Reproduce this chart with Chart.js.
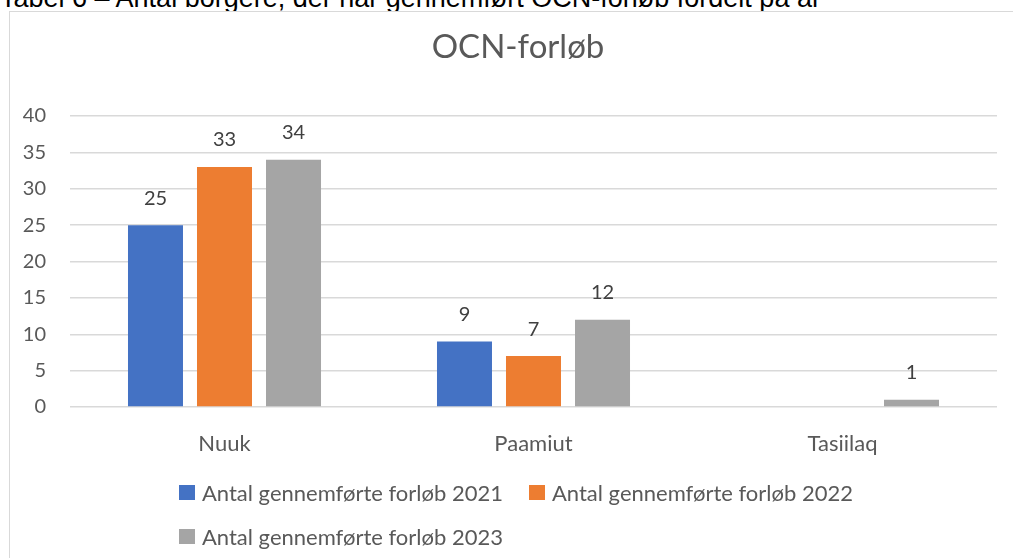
<!DOCTYPE html>
<html>
<head>
<meta charset="utf-8">
<script src="https://cdn.jsdelivr.net/npm/chart.js@4"></script>
<style>
  html, body { margin: 0; padding: 0; background: #fff; overflow: hidden; }
  body { width: 1013px; height: 558px; position: relative; }
  #caption { position: absolute; left: 0; top: -15px; font: 27px/1 "Liberation Sans", Arial, sans-serif; color: #000; white-space: nowrap; }
  #frame { position: absolute; left: 9px; top: 11px; width: 1030px; height: 600px; border: 1.5px solid #d9d9d9; box-sizing: border-box; background: #fff; }
  #myChart { position: absolute; left: 0; top: 0; }
  .lg { position: absolute; display: flex; align-items: center; font: 22px Lato, sans-serif; color: #595959; white-space: nowrap; }
  .lg span.box { display: inline-block; width: 16px; height: 15px; margin-right: 7px; }
</style>
</head>
<body>
<div id="caption">Tabel 6 – Antal borgere, der har gennemført OCN-forløb fordelt på år</div>
<div id="frame"></div>
<canvas id="myChart" width="1013" height="558"></canvas>
<div id="legend"></div>
<script>
var chartTitle = "OCN-forløb";
var categories = ["Nuuk", "Paamiut", "Tasiilaq"];
var seriesNames = [
    "Antal gennemførte forløb 2021",
    "Antal gennemførte forløb 2022",
    "Antal gennemførte forløb 2023",
];
var values2021 = [25, 9, null];
var values2022 = [33, 7, null];
var values2023 = [34, 12, 1];
var seriesColors = ["#4472c4", "#ed7d31", "#a5a5a5"];
var yMin = 0;
var yMax = 40;
var yStep = 5;

var chartFont = "Lato, sans-serif";

// value labels above each bar
var valueLabels = {
    id: "valueLabels",
    afterDatasetsDraw: function (chart) {
        var ctx = chart.ctx;
        ctx.save();
        ctx.font = "20px " + chartFont;
        ctx.fillStyle = "#404040";
        ctx.textAlign = "center";
        ctx.textBaseline = "middle";
        chart.data.datasets.forEach(function (ds, i) {
            chart.getDatasetMeta(i).data.forEach(function (bar, j) {
                var v = ds.data[j];
                if (v == null) return;
                ctx.fillText(String(v), bar.x, bar.y - 27);
            });
        });
        ctx.restore();
    },
};

// title centred on the frame rather than on the canvas
var frameTitle = {
    id: "frameTitle",
    afterDraw: function (chart) {
        var ctx = chart.ctx;
        ctx.save();
        ctx.font = "33px " + chartFont;
        ctx.fillStyle = "#595959";
        ctx.textAlign = "center";
        ctx.textBaseline = "middle";
        ctx.fillText(chartTitle, 518, 47);
        ctx.restore();
    },
};

var allValues = [values2021, values2022, values2023];

new Chart("myChart", {
    type: "bar",
    data: {
        labels: categories,
        datasets: allValues.map(function (vals, i) {
            return {
                label: seriesNames[i],
                data: vals,
                backgroundColor: seriesColors[i],
                categoryPercentage: 0.67,
                barPercentage: 0.797,
            };
        }),
    },
    options: {
        responsive: false,
        animation: false,
        layout: { padding: { top: 116, right: 16, bottom: 0, left: 0 } },
        plugins: {
            legend: { display: false },
            tooltip: { enabled: false },
            title: { display: false },
        },
        scales: {
            y: {
                min: yMin,
                max: yMax,
                ticks: {
                    stepSize: yStep,
                    color: "#595959",
                    font: { family: chartFont, size: 20 },
                    padding: 24,
                },
                grid: { color: "#d9d9d9", lineWidth: 1.5, drawTicks: false },
                border: { display: false },
                afterFit: function (scale) { scale.width = 70; },
            },
            x: {
                ticks: {
                    color: "#595959",
                    font: { family: chartFont, size: 22 },
                    padding: 24,
                },
                grid: { display: false, drawTicks: false },
                border: { display: false },
                afterFit: function (scale) { scale.height = 151; },
            },
        },
    },
    plugins: [valueLabels, frameTitle],
});

// legend, laid out like the original: two on the first row, one below
var legendSpots = [[179, 492], [529, 492], [179, 536]];
var legendEl = document.getElementById("legend");
seriesNames.forEach(function (name, i) {
    var item = document.createElement("div");
    item.className = "lg";
    item.style.left = legendSpots[i][0] + "px";
    item.style.top = (legendSpots[i][1] - 14) + "px";
    item.style.height = "28px";
    var box = document.createElement("span");
    box.className = "box";
    box.style.background = seriesColors[i];
    item.appendChild(box);
    item.appendChild(document.createTextNode(name));
    legendEl.appendChild(item);
});
</script>
</body>
</html>
